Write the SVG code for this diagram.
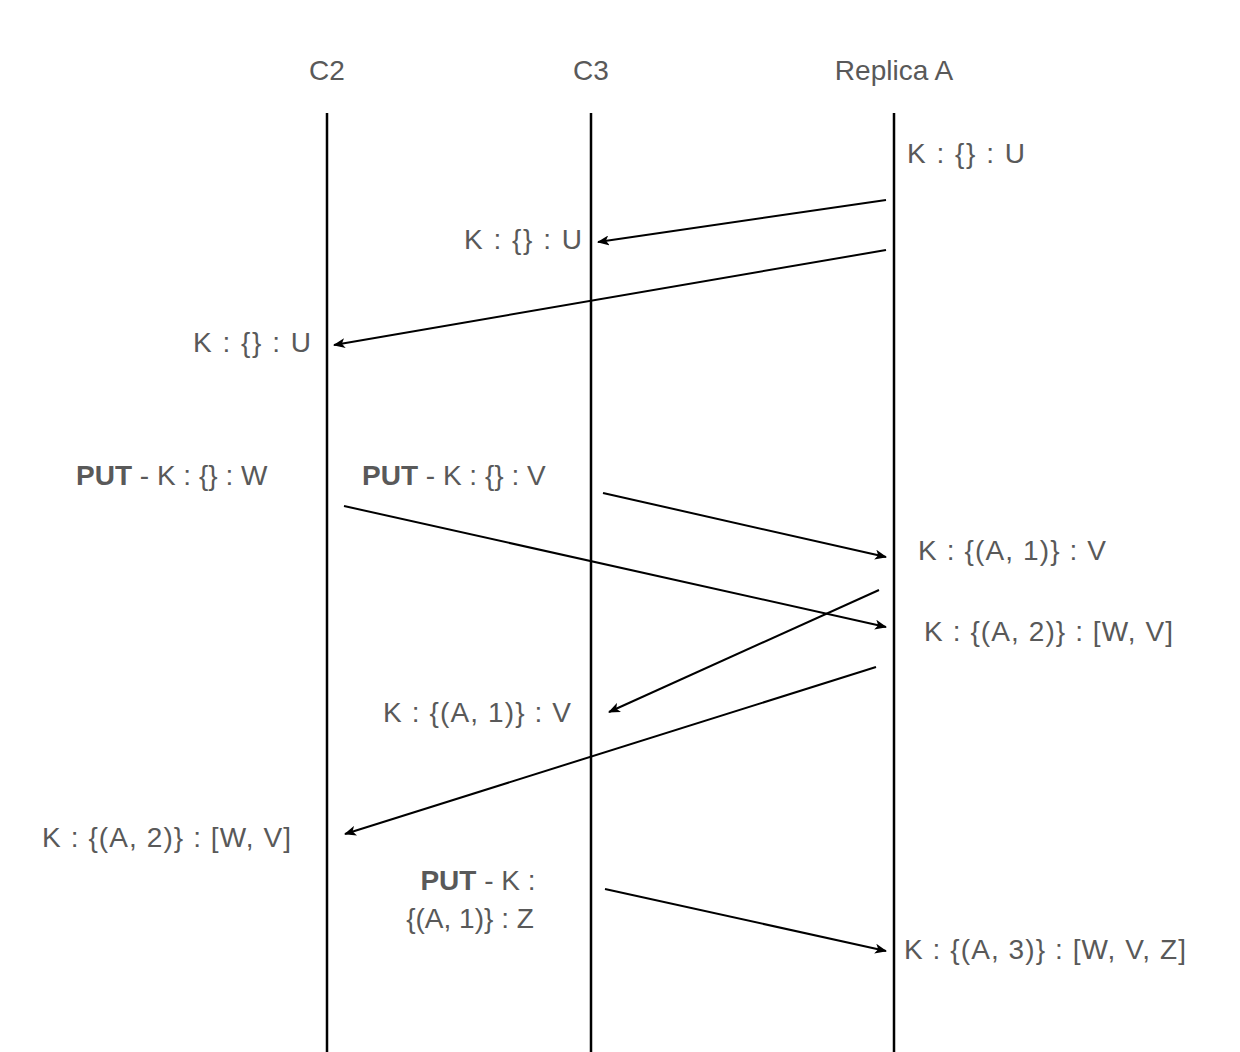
<svg xmlns="http://www.w3.org/2000/svg" width="1240" height="1052" viewBox="0 0 1240 1052">
<style>
text{font-family:"Liberation Sans",Arial,sans-serif;font-size:28px;fill:#595959}
.b{font-weight:bold}
.l{stroke:#000;stroke-width:2.5}
.c{stroke:#000;stroke-width:2;fill:none;marker-end:url(#a)}
</style>
<defs><marker id="a" markerWidth="12" markerHeight="10" refX="11" refY="5" orient="auto" markerUnits="userSpaceOnUse"><path d="M0,0 L12,5 L0,10 L3,5 Z" fill="#000"/></marker></defs>
<rect width="1240" height="1052" fill="#fff"/>
<g id="c2"><line class="l" x1="327" y1="113" x2="327" y2="1052"/><text x="327" y="80" text-anchor="middle">C2</text></g>
<g id="c3"><line class="l" x1="591" y1="113" x2="591" y2="1052"/><text x="591" y="80" text-anchor="middle">C3</text></g>
<g id="ra"><line class="l" x1="894" y1="113" x2="894" y2="1052"/><text x="894" y="80" text-anchor="middle">Replica A</text></g>
<g id="labels">
<text x="907" y="163" textLength="118">K : {} : U</text>
<text x="464" y="249" textLength="118">K : {} : U</text>
<text x="193" y="352" textLength="118">K : {} : U</text>
<text x="76" y="485"><tspan class="b">PUT</tspan> -  K : {} : W</text>
<text x="362" y="485"><tspan class="b">PUT</tspan> -  K : {} : V</text>
<text x="918" y="560" textLength="188">K : {(A, 1)} : V</text>
<text x="924" y="641" textLength="249">K : {(A, 2)} : [W, V]</text>
<text x="383" y="722" textLength="188">K : {(A, 1)} : V</text>
<text x="42" y="847" textLength="249">K : {(A, 2)} : [W, V]</text>
<text x="478" y="890" text-anchor="middle"><tspan class="b">PUT</tspan> -  K :</text>
<text x="470" y="928" text-anchor="middle">{(A, 1)} : Z</text>
<text x="904" y="959" textLength="282">K : {(A, 3)} : [W, V, Z]</text>
</g>
<g id="connectors">
<line class="c" x1="886" y1="200" x2="598" y2="242"/>
<line class="c" x1="886" y1="250" x2="334" y2="345"/>
<line class="c" x1="603" y1="493" x2="886" y2="557"/>
<line class="c" x1="344" y1="506" x2="886" y2="627"/>
<line class="c" x1="879" y1="590" x2="609" y2="712"/>
<line class="c" x1="876" y1="667" x2="345" y2="834"/>
<line class="c" x1="605" y1="889" x2="886" y2="951"/>
</g>
</svg>
